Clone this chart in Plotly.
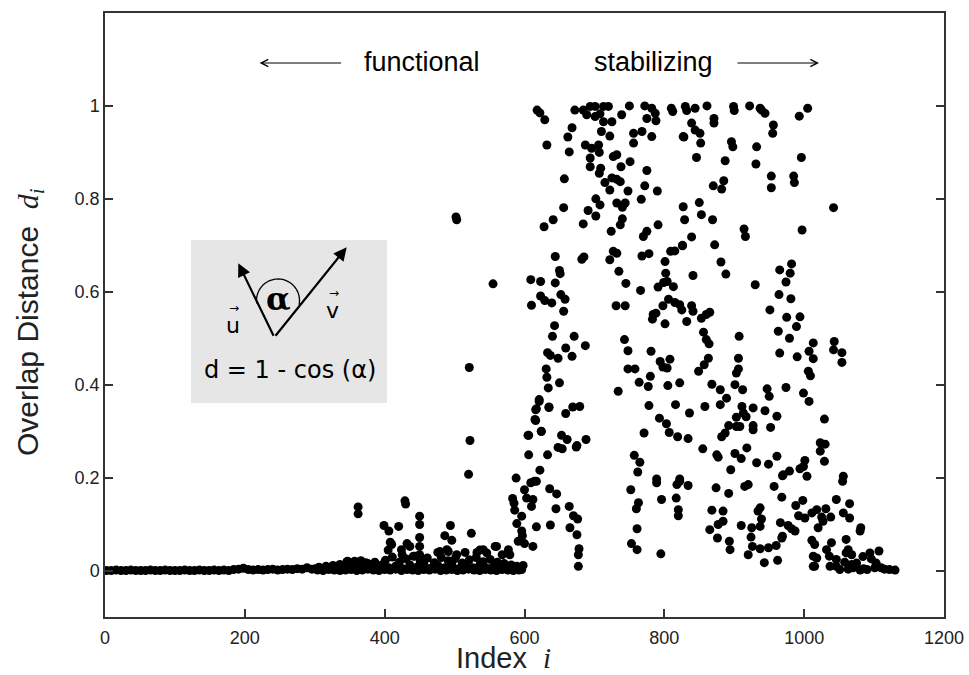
import plotly.graph_objects as go
import math

# ---------------- data (index i, overlap distance d_i) ----------------
flat_index = [2, 9, 16, 23, 30, 37, 44, 51, 58, 65, 72, 79, 86, 93, 100, 107, 114, 121, 128, 135, 142,
              149, 156, 163, 170, 177, 184, 191, 198, 205, 212, 219, 226, 233, 240, 247, 254, 261, 268,
              275, 282, 289, 296]
flat_dist = [0.0, 0.0, 0.001, 0.0, 0.0, 0.001, 0.0, 0.0, 0.0, 0.001, 0.0, 0.0, 0.001, 0.0, 0.0, 0.0,
             0.001, 0.0, 0.0, 0.001, 0.0, 0.0, 0.001, 0.0, 0.001, 0.0, 0.002, 0.003, 0.005, 0.002, 0.001,
             0.002, 0.001, 0.002, 0.003, 0.001, 0.002, 0.003, 0.002, 0.004, 0.003, 0.006, 0.003]

low_index = [301, 306, 311, 316, 321, 326, 331, 336, 341, 346, 351, 356, 361, 366, 371, 376, 381, 386,
             391, 396, 401, 406, 411, 416, 421, 426, 431, 436, 441, 446, 451, 456, 461, 466, 471, 476,
             481, 486, 491, 496, 501, 506, 511, 516, 521, 526, 531, 536, 541, 546, 551, 556, 561, 566,
             571, 576, 581, 586, 591, 596]
low_dist = [0.004, 0.007, 0.002, 0.009, 0.005, 0.011, 0.003, 0.013, 0.006, 0.019, 0.004, 0.016, 0.009,
            0.021, 0.005, 0.015, 0.008, 0.018, 0.003, 0.012, 0.022, 0.006, 0.029, 0.010, 0.018, 0.004,
            0.025, 0.012, 0.031, 0.007, 0.020, 0.014, 0.027, 0.005, 0.017, 0.011, 0.028, 0.006, 0.021,
            0.013, 0.026, 0.004, 0.016, 0.009, 0.023, 0.006, 0.028, 0.012, 0.019, 0.005, 0.024, 0.010,
            0.018, 0.004, 0.015, 0.008, 0.012, 0.003, 0.006, 0.002]

low2_index = [304, 312, 320, 328, 336, 344, 352, 360, 368, 376, 384, 392, 400, 408, 416, 424, 432, 440,
              448, 456, 464, 472, 480, 488, 496, 504, 512, 520, 528, 536, 544, 552, 560, 568, 576, 584, 592]
low2_dist = [0.001, 0.0, 0.002, 0.001, 0.0, 0.001, 0.002, 0.0, 0.001, 0.003, 0.001, 0.0, 0.002, 0.001,
             0.003, 0.0, 0.002, 0.001, 0.0, 0.002, 0.001, 0.003, 0.0, 0.001, 0.002, 0.0, 0.001, 0.003,
             0.001, 0.0, 0.002, 0.001, 0.0, 0.002, 0.001, 0.0, 0.001]

low_scatter_index = [347, 357, 373, 362, 362, 399, 406, 408, 405, 410, 420, 424, 425, 432, 436, 443, 429,
                     430, 450, 450, 450, 450, 450, 476, 479, 486, 489, 491, 494, 496, 503, 515, 524, 532,
                     536, 541, 546, 558, 560, 568, 577, 579, 589, 598]
low_scatter_dist = [0.020, 0.020, 0.017, 0.137, 0.122, 0.097, 0.085, 0.061, 0.044, 0.056, 0.095, 0.045,
                    0.034, 0.058, 0.052, 0.031, 0.150, 0.143, 0.117, 0.099, 0.071, 0.052, 0.034, 0.039,
                    0.041, 0.075, 0.045, 0.041, 0.097, 0.065, 0.034, 0.039, 0.080, 0.039, 0.044, 0.045,
                    0.038, 0.052, 0.052, 0.034, 0.045, 0.034, 0.009, 0.011]

isolated_pts = [(502, 0.761), (503, 0.755), (522, 0.280), (520, 0.207), (521, 0.437), (555, 0.617)]

rise_pts = [
    (588, 0.199), (583, 0.155), (585, 0.145), (586, 0.130), (589, 0.101),
    (591, 0.063), (600, 0.058), (612, 0.052),
    (600, 0.174), (609, 0.189), (614, 0.192), (617, 0.192), (622, 0.216),
    (596, 0.117), (596, 0.085), (597, 0.075),
    (610, 0.138), (612, 0.153), (603, 0.156),
    (606, 0.249), (606, 0.291),
    (616, 0.346), (616, 0.323), (621, 0.364), (624, 0.299),
    (633, 0.249), (635, 0.352),
    (617, 0.094), (637, 0.098),
    (636, 0.176), (646, 0.165), (645, 0.133),
    (648, 0.265), (654, 0.262), (674, 0.266),
    (664, 0.138), (670, 0.118), (676, 0.111), (665, 0.092), (675, 0.077),
    (678, 0.047), (677, 0.034), (677, 0.009),
    (657, 0.843), (656, 0.781), (641, 0.755), (628, 0.740),
    (684, 0.746), (691, 0.775), (702, 0.800), (702, 0.763),
    (644, 0.676), (682, 0.670), (685, 0.675),
    (609, 0.626), (623, 0.622), (644, 0.619), (650, 0.646), (651, 0.639),
    (623, 0.591), (629, 0.581), (639, 0.576), (652, 0.594), (658, 0.584), (610, 0.571), (656, 0.558),
    (643, 0.527), (640, 0.504), (671, 0.504), (687, 0.484),
    (633, 0.469), (637, 0.463), (648, 0.457), (659, 0.479), (668, 0.461),
    (631, 0.434), (632, 0.416), (634, 0.393), (650, 0.404),
    (621, 0.368), (617, 0.348), (615, 0.325), (635, 0.351), (659, 0.338), (669, 0.352), (679, 0.353),
    (605, 0.291), (624, 0.300), (653, 0.291), (661, 0.282), (688, 0.282), (675, 0.269),
    (618, 0.991), (622, 0.985), (629, 0.970), (632, 0.916), (664, 0.901), (662, 0.933), (668, 0.953),
    (672, 0.991),
]

top_pts = [
    (684, 0.991), (694, 0.999), (701, 0.999), (713, 0.999), (720, 0.999), (689, 0.981), (701, 0.977),
    (713, 0.966), (725, 0.966), (708, 0.983),
    (750, 1.0), (739, 0.981), (772, 1.0), (782, 0.995), (787, 0.984), (775, 0.973), (788, 0.968),
    (810, 0.995), (812, 0.988),
    (830, 0.999), (832, 0.990), (844, 0.995), (839, 0.963), (844, 0.948), (851, 0.941), (852, 0.920),
    (827, 0.934), (861, 1.0), (871, 0.973), (871, 0.963),
    (899, 0.999), (900, 0.990), (922, 1.0), (937, 0.995), (944, 0.984), (939, 0.991),
    (896, 0.923), (898, 0.912), (932, 0.912), (931, 0.875), (956, 0.959), (955, 0.941),
    (1005, 0.995), (993, 0.978), (996, 0.889), (1042, 0.781), (997, 0.733),
    (985, 0.849), (986, 0.835), (953, 0.849), (953, 0.824),
    (887, 0.882), (885, 0.839), (882, 0.821), (870, 0.828),
    (846, 0.889), (828, 0.933),
    (850, 0.792), (853, 0.766), (869, 0.755), (827, 0.783), (829, 0.755),
    (839, 0.718), (826, 0.700), (872, 0.701), (914, 0.735), (916, 0.719),
    (881, 0.664), (888, 0.638), (841, 0.635), (930, 0.615),
    (965, 0.647), (980, 0.640), (982, 0.660), (974, 0.621),
    (801, 0.665), (802, 0.640),
    (809, 0.687), (815, 0.688), (826, 0.699),
    (768, 0.677), (778, 0.682),
    (722, 0.669), (727, 0.687), (732, 0.683),
    (735, 0.644), (745, 0.618), (766, 0.603),
    (791, 0.744), (770, 0.719), (775, 0.730), (724, 0.730),
    (708, 0.787),
    (732, 0.791), (740, 0.782), (744, 0.791), (740, 0.757), (737, 0.744), (748, 0.817), (767, 0.799),
    (790, 0.817), (772, 0.828), (775, 0.861), (751, 0.880), (738, 0.869), (727, 0.891), (732, 0.895),
    (709, 0.866), (707, 0.855), (694, 0.888), (694, 0.869),
    (687, 0.916), (696, 0.909), (706, 0.916), (707, 0.900),
    (715, 0.835), (725, 0.845), (732, 0.842), (737, 0.837), (722, 0.819),
    (756, 0.941), (768, 0.945), (782, 0.934), (756, 0.920),
    (710, 0.945), (722, 0.935),
]

mid_pts = [
    (791, 0.610), (799, 0.620), (804, 0.622), (813, 0.611),
    (731, 0.570), (744, 0.570),
    (798, 0.570), (806, 0.584), (815, 0.577), (822, 0.572), (825, 0.561), (839, 0.570), (841, 0.558),
    (832, 0.536), (801, 0.531),
    (784, 0.551), (783, 0.541), (788, 0.554),
    (853, 0.543), (860, 0.551), (865, 0.556),
    (964, 0.594), (981, 0.585), (951, 0.561),
    (975, 0.545), (994, 0.546), (989, 0.525), (963, 0.515), (979, 0.500),
    (907, 0.504), (856, 0.513), (860, 0.497), (864, 0.488),
    (743, 0.497), (748, 0.473), (781, 0.472),
    (1013, 0.490), (1007, 0.472), (1013, 0.456), (990, 0.460), (965, 0.468),
    (1043, 0.493), (1042, 0.475), (1054, 0.469), (1054, 0.448),
    (1006, 0.429), (1009, 0.419),
    (863, 0.457), (857, 0.443), (849, 0.429),
    (906, 0.457), (906, 0.434), (903, 0.425),
    (794, 0.450), (808, 0.455), (798, 0.438), (804, 0.436),
    (748, 0.434), (758, 0.434),
    (780, 0.418), (764, 0.405), (777, 0.396),
    (734, 0.386), (805, 0.398), (822, 0.404),
    (868, 0.401), (880, 0.389), (889, 0.371), (880, 0.357), (901, 0.400), (912, 0.389),
    (947, 0.391), (950, 0.375), (974, 0.394), (999, 0.382), (1007, 0.364),
    (778, 0.355), (816, 0.357), (858, 0.353),
    (836, 0.339),
    (911, 0.353), (913, 0.339), (917, 0.331), (927, 0.350), (944, 0.344), (961, 0.332),
    (1029, 0.326),
    (903, 0.330), (892, 0.312), (903, 0.310), (908, 0.310), (927, 0.312), (927, 0.303), (952, 0.308),
    (793, 0.328), (803, 0.316), (807, 0.297), (819, 0.288), (834, 0.284),
    (771, 0.296),
    (887, 0.296), (882, 0.288),
    (1023, 0.275), (1030, 0.272), (1023, 0.257), (1029, 0.235),
    (918, 0.264), (961, 0.246), (949, 0.229), (932, 0.232),
    (855, 0.262), (875, 0.249), (877, 0.244), (901, 0.252), (910, 0.241),
    (757, 0.248), (765, 0.233), (762, 0.212),
    (895, 0.217),
    (1001, 0.237), (999, 0.224), (994, 0.219), (979, 0.214), (970, 0.206), (1004, 0.203), (1056, 0.203),
    (822, 0.197), (789, 0.197),
]

tail_pts = [
    (752, 0.174), (763, 0.146), (760, 0.133), (761, 0.090), (753, 0.058), (761, 0.045),
    (789, 0.189), (796, 0.153), (795, 0.036),
    (818, 0.185), (822, 0.192), (834, 0.183), (817, 0.156), (820, 0.131), (820, 0.118),
    (874, 0.178), (892, 0.166), (915, 0.181), (920, 0.185),
    (868, 0.130), (884, 0.128), (884, 0.106), (877, 0.099), (865, 0.088), (876, 0.070),
    (893, 0.063), (894, 0.045),
    (910, 0.097), (925, 0.092), (924, 0.072), (926, 0.052), (920, 0.034), (937, 0.047), (949, 0.049),
    (960, 0.054), (943, 0.017), (962, 0.022),
    (934, 0.128), (937, 0.135), (939, 0.111), (937, 0.095),
    (957, 0.181), (968, 0.158), (969, 0.204),
    (998, 0.151), (988, 0.140), (992, 0.118), (1001, 0.113), (1011, 0.124), (1018, 0.131), (1031, 0.133),
    (1025, 0.115), (1038, 0.115),
    (966, 0.103), (977, 0.097), (982, 0.090), (987, 0.085), (969, 0.074), (968, 0.070),
    (1020, 0.092), (1027, 0.106),
    (1011, 0.065), (1015, 0.056), (1032, 0.045), (1039, 0.060), (1036, 0.031), (1046, 0.024),
    (1018, 0.027), (1015, 0.009), (1013, 0.031), (1013, 0.009), (1037, 0.009), (1046, 0.009),
    (1046, 0.153), (1065, 0.144), (1056, 0.124), (1065, 0.113), (1081, 0.092), (1080, 0.085),
    (1055, 0.192),
    (1060, 0.067), (1063, 0.045), (1060, 0.038), (1068, 0.034), (1058, 0.018), (1068, 0.013),
    (1075, 0.016), (1084, 0.030), (1094, 0.038), (1107, 0.042), (1096, 0.025), (1103, 0.016),
    (1101, 0.006), (1110, 0.006), (1122, 0.002), (1130, 0.001), (1070, 0.006), (1080, 0.001),
    (1090, 0.002), (1051, 0.002), (1115, 0.003), (1085, 0.004), (1063, 0.003),
]

x_ticks = [0, 200, 400, 600, 800, 1000, 1200]
y_ticks = [0, 0.2, 0.4, 0.6, 0.8, 1]
y_tick_text = ["0", "0.2", "0.4", "0.6", "0.8", "1"]

# ---------------- build series ----------------
pair_groups = [isolated_pts, rise_pts, top_pts, mid_pts, tail_pts]
all_x = list(flat_index) + list(low_index) + list(low2_index) + list(low_scatter_index)
all_y = list(flat_dist) + list(low_dist) + list(low2_dist) + list(low_scatter_dist)
for grp in pair_groups:
    all_x += [p[0] for p in grp]
    all_y += [p[1] for p in grp]

W, H = 969, 675
ML, MR, MT, MB = 105, 25, 13, 58
XR = (0, 1200)
YR = (-0.1, 1.2)
PW = W - ML - MR
PH = H - MT - MB


def dx(px):
    return XR[0] + (px - ML) / PW * (XR[1] - XR[0])


def dy(py):
    return YR[1] - (py - MT) / PH * (YR[1] - YR[0])


def paper_x(px):
    return (px - ML) / PW


def paper_y(py):
    return (H - MB - py) / PH


fig = go.Figure()
fig.add_trace(go.Scatter(x=all_x, y=all_y, mode="markers",
                         marker=dict(size=9, color="black", line=dict(width=0)),
                         showlegend=False, hoverinfo="x+y"))

shapes = []
annotations = []

# inset box
shapes.append(dict(type="rect", xref="x", yref="y", x0=dx(191), x1=dx(387), y0=dy(403), y1=dy(240),
                   fillcolor="#e6e6e6", line=dict(width=0), layer="below"))
vx, vy = 274.3, 337.3
# arc for alpha
cx, cy, r = 278.0, 300.5, 21.5
a0 = math.radians(188)
a1 = math.radians(-12)
pts = []
n = 40
for k in range(n + 1):
    a = a0 + (a1 - a0) * k / n
    px = cx + r * math.cos(a)
    py = cy - r * math.sin(a)
    pts.append((dx(px), dy(py)))
path = "M " + " L ".join(f"{p[0]:.3f},{p[1]:.5f}" for p in pts)
shapes.append(dict(type="path", xref="x", yref="y", path=path, line=dict(color="black", width=1.3)))

for hx, hy in [(238.3, 263.3), (346.7, 247.3)]:
    annotations.append(dict(x=dx(hx), y=dy(hy), ax=dx(vx), ay=dy(vy), xref="x", yref="y",
                            axref="x", ayref="y", showarrow=True, arrowhead=2, arrowsize=1.2,
                            arrowwidth=2.2, arrowcolor="black", text=""))

sans = "Liberation Sans, Arial, sans-serif"
annotations += [
    dict(x=dx(278.5), y=dy(299), text="<b>α</b>", showarrow=False, xref="x", yref="y",
         font=dict(family="DejaVu Serif", size=32, color="black")),
    dict(x=dx(233), y=dy(325), text="u", showarrow=False, xref="x", yref="y",
         font=dict(family="DejaVu Sans", size=22, color="black")),
    dict(x=dx(234), y=dy(308), text="→", showarrow=False, xref="x", yref="y",
         font=dict(family="DejaVu Sans", size=12, color="black")),
    dict(x=dx(332), y=dy(310), text="v", showarrow=False, xref="x", yref="y",
         font=dict(family="DejaVu Sans", size=22, color="black")),
    dict(x=dx(334), y=dy(293), text="→", showarrow=False, xref="x", yref="y",
         font=dict(family="DejaVu Sans", size=12, color="black")),
    dict(x=dx(290), y=dy(370), text="d = 1 - cos (α)", showarrow=False, xref="x", yref="y",
         font=dict(family="DejaVu Sans", size=24, color="black")),
    dict(x=dx(421.7), y=dy(62), text="functional", showarrow=False, xref="x", yref="y",
         font=dict(family=sans, size=27, color="black")),
    dict(x=dx(653), y=dy(62), text="stabilizing", showarrow=False, xref="x", yref="y",
         font=dict(family=sans, size=27, color="black")),
    dict(x=dx(259.6), y=dy(63), ax=dx(342.6), ay=dy(63), xref="x", yref="y", axref="x", ayref="y",
         showarrow=True, arrowhead=5, arrowsize=1.4, arrowwidth=1, arrowcolor="black", text=""),
    dict(x=dx(819), y=dy(63), ax=dx(736), ay=dy(63), xref="x", yref="y", axref="x", ayref="y",
         showarrow=True, arrowhead=5, arrowsize=1.4, arrowwidth=1, arrowcolor="black", text=""),
    # axis titles
    dict(x=paper_x(503), y=paper_y(658), xref="paper", yref="paper", showarrow=False,
         xanchor="center", yanchor="middle",
         text="Index  <i><span style='font-family:Liberation Serif'>i</span></i>",
         font=dict(family=sans, size=29, color="#222")),
    dict(x=paper_x(30), y=paper_y(322), xref="paper", yref="paper", showarrow=False, textangle=-90,
         xanchor="center", yanchor="middle",
         text="Overlap Distance  <i><span style='font-family:Liberation Serif'>d<sub>i</sub></span></i>",
         font=dict(family=sans, size=30, color="#222")),
]

axis_common = dict(showgrid=False, zeroline=False, showline=True, linecolor="#333", linewidth=1.5,
                   ticks="inside", ticklen=8, tickwidth=1.5, tickcolor="#333", automargin=False,
                   tickfont=dict(family=sans, size=18, color="#222"))

fig.update_layout(
    width=W, height=H,
    margin=dict(l=ML, r=MR, t=MT, b=MB),
    plot_bgcolor="white", paper_bgcolor="white",
    shapes=shapes, annotations=annotations,
    xaxis=dict(range=list(XR), tickvals=x_ticks, mirror=True, ticklabelstandoff=4, **axis_common),
    yaxis=dict(range=list(YR), tickvals=y_ticks, ticktext=y_tick_text, mirror="ticks", **axis_common),
)

fig.write_html("out.html", config={"displayModeBar": False},
               post_script="document.body.style.margin='0';document.body.style.overflow='hidden';")
